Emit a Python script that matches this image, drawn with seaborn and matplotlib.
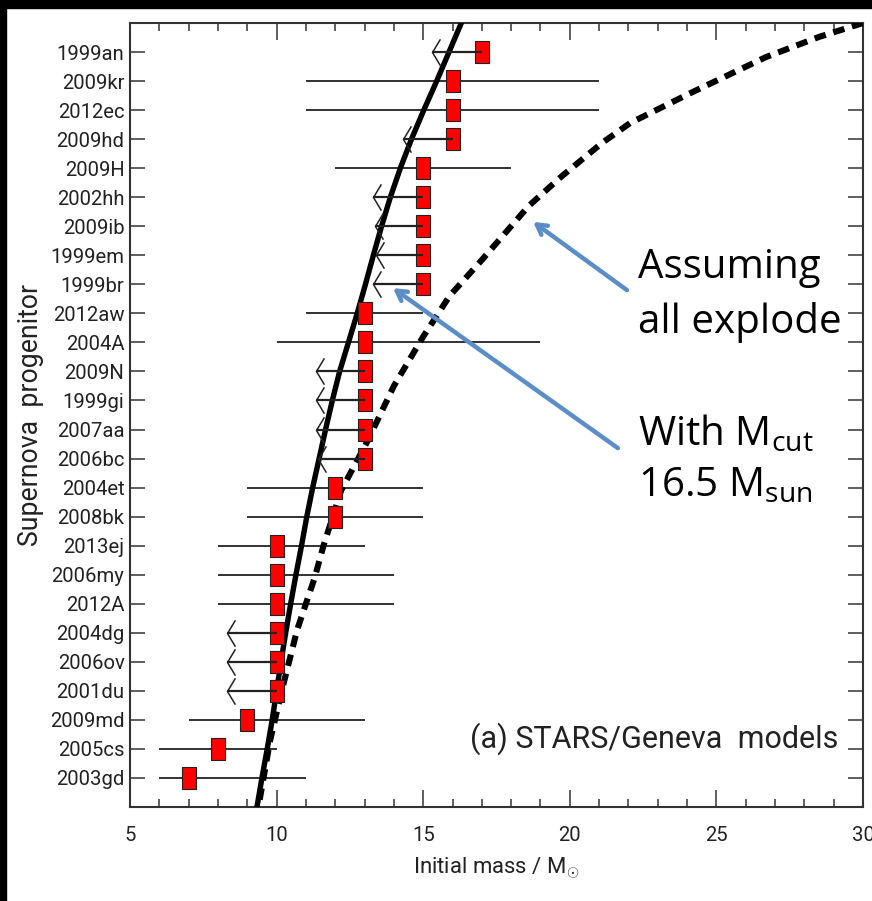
import numpy as np
import pandas as pd
import matplotlib
matplotlib.use("Agg")
import matplotlib.pyplot as plt
import seaborn as sns
from matplotlib.path import Path
from matplotlib.patches import Rectangle
from matplotlib.ticker import MultipleLocator, NullLocator

# ---------------- data ----------------
names = ["1999an", "2009kr", "2012ec", "2009hd", "2009H", "2002hh", "2009ib",
         "1999em", "1999br", "2012aw", "2004A", "2009N", "1999gi", "2007aa",
         "2006bc", "2004et", "2008bk", "2013ej", "2006my", "2012A", "2004dg",
         "2006ov", "2001du", "2009md", "2005cs", "2003gd"]
mass = [17, 16, 16, 16, 15, 15, 15, 15, 15, 13, 13, 13, 13, 13, 13, 12, 12,
        10, 10, 10, 10, 10, 10, 9, 8, 7]
err_lo = [15.3, 11, 11, 14.3, 12, 13.3, 13.35, 13.4, 13.3, 11, 10, 11.35, 11.35,
          11.35, 11.4, 9, 9, 8, 8, 8, 8.3, 8.3, 8.3, 7, 6, 6]
err_hi = [17, 21, 21, 16, 18, 15, 15, 15, 15, 15, 19, 13, 13, 13, 13, 15, 15,
          13, 14, 14, 10, 10, 10, 13, 10, 11]
is_limit = [True, False, False, True, False, True, True, True, True, False,
            False, True, True, True, True, False, False, False, False, False,
            True, True, True, False, False, False]

# model curve: rank position vs. mass (M_cut = 16.5)
solid_rank = [-1, 0, 1, 2, 3, 4, 5, 6, 7, 8, 9, 10, 11, 12, 13, 14, 15, 16,
              17, 18, 19, 20, 21, 22, 23, 24, 25, 26]
solid_mass = [16.3, 15.88, 15.46, 15.02, 14.6, 14.22, 13.88, 13.58, 13.3, 13.03,
              12.75, 12.45, 12.15, 11.9, 11.67, 11.45, 11.23, 11.03, 10.85, 10.66,
              10.48, 10.31, 10.15, 10.0, 9.85, 9.68, 9.5, 9.33]
# model curve assuming all explode
dash_rank = [-1, -0.52, 0.17, 1.42, 2.45, 3.13, 4.3, 5.3, 7.16, 8.4, 9.8, 11.5,
             13.4, 15.1, 17.0, 18.1, 19.9, 21.9, 23.7, 26]
dash_mass = [30, 28.5, 26.7, 24.1, 22.05, 21.1, 19.7, 18.6, 17.0, 15.9, 15.0,
             14.0, 13.1, 12.2, 11.6, 11.3, 10.7, 10.2, 9.78, 9.38]

df = pd.DataFrame({"name": names, "mass": mass, "lo": err_lo, "hi": err_hi,
                   "limit": is_limit})
df["pos"] = np.arange(len(df))

# ---------------- figure ----------------
plt.rcParams["mathtext.fontset"] = "custom"
plt.rcParams["mathtext.rm"] = "Open Sans"
plt.rcParams["mathtext.it"] = "Open Sans:italic"
plt.rcParams["mathtext.bf"] = "Open Sans:bold"

fig = plt.figure(figsize=(8.72, 9.01), dpi=100)
fig.patch.set_facecolor("white")
ax = fig.add_axes([130 / 872, 94 / 901, 733 / 872, 784 / 901])

axfont = ["Liberation Sans Narrow", "Roboto", "DejaVu Sans"]
ink = "#222222"

# two-sided ranges
two = df[~df["limit"]]
ax.hlines(two["pos"], two["lo"], two["hi"], color=ink, lw=1.3, zorder=2)

# model curves
sns.lineplot(x=solid_mass, y=solid_rank, sort=False, estimator=None,
             color="black", lw=3.9, ax=ax, zorder=3)
sns.lineplot(x=dash_mass, y=dash_rank, sort=False, estimator=None,
             color="black", lw=4.4, ax=ax, zorder=3)
ax.lines[-1].set_dashes((1.9, 1.3))
ax.lines[-1].set_dash_capstyle("butt")

# red boxes
rect = Path([(-0.31, -0.5), (0.31, -0.5), (0.31, 0.5), (-0.31, 0.5), (-0.31, -0.5)],
            [Path.MOVETO, Path.LINETO, Path.LINETO, Path.LINETO, Path.CLOSEPOLY])
sns.scatterplot(data=df, x="mass", y="pos", marker=rect, s=235, color="red",
                edgecolor=ink, linewidth=0.8, zorder=4, ax=ax, legend=False)

# upper limits (drawn over boxes)
lim = df[df["limit"]]
ax.hlines(lim["pos"], lim["lo"], lim["mass"], color=ink, lw=1.6, zorder=5)
chev = Path([(0.3, 0.5), (0.0, 0.0), (0.3, -0.5)],
            [Path.MOVETO, Path.LINETO, Path.LINETO])
ax.plot(lim["lo"], lim["pos"], ls="none", marker=chev, ms=19, mfc="none",
        mec=ink, mew=1.1, zorder=5)

# axes styling
ax.set_xlim(5, 30)
ax.set_ylim(len(names), -1)
ax.set_xticks([5, 10, 15, 20, 25, 30])
ax.xaxis.set_minor_locator(MultipleLocator(1))
ax.yaxis.set_minor_locator(NullLocator())
ax.set_yticks(df["pos"])
ax.set_yticklabels(names)
ax.tick_params(which="both", direction="in", top=True, right=True,
               color="#333333", width=1.1, labelcolor=ink, labelsize=15)
ax.tick_params(axis="x", which="major", length=12, pad=14)
ax.tick_params(axis="x", which="minor", length=6)
ax.tick_params(axis="y", which="major", length=11, pad=4)
for s in ax.spines.values():
    s.set_linewidth(1.5)
    s.set_color("#333333")

ylabs = ax.get_yticklabels()
xlabs = ax.get_xticklabels()
for t in ylabs + xlabs:
    t.set_fontfamily(axfont)

xl = ax.set_xlabel(r"Initial mass / M$_{\odot}$", fontsize=15, family=axfont,
                   color=ink)
ax.xaxis.set_label_coords(0.5, -(855 - 807) / 784)
yl = ax.set_ylabel("Supernova  progenitor", fontsize=15, family=axfont,
                   color=ink, va="center")
ax.yaxis.set_label_coords(-(130 - 31) / 733, 0.5)

model_txt = ax.text(0.464, 0.075, "(a) STARS/Geneva  models",
                    transform=ax.transAxes, fontsize=22, family=axfont,
                    color=ink, va="baseline", ha="left")

# annotations
blue = "#5b8ec9"
ax.annotate("", xy=(18.75, 5.85), xytext=(21.95, 8.2),
            arrowprops=dict(arrowstyle="->,head_length=0.7,head_width=0.4",
                            color=blue, lw=3.2, shrinkA=0, shrinkB=0),
            zorder=6)
ax.annotate("", xy=(13.97, 8.13), xytext=(21.64, 13.64),
            arrowprops=dict(arrowstyle="->,head_length=0.7,head_width=0.4",
                            color=blue, lw=3.2, shrinkA=0, shrinkB=0),
            zorder=6)
tx = 22.33
for txt, yb in [("Assuming", 7.78), ("all explode", 9.68),
                (r"With M$_{\mathrm{cut}}$", 13.53),
                (r"16.5 M$_{\mathrm{sun}}$", 15.32)]:
    ax.text(tx, yb, txt, fontsize=29, family="Open Sans", color="black",
            va="baseline", ha="left", zorder=7, clip_on=False)

# black frame remnants at top and left
fig.add_artist(Rectangle((0, 1 - 8 / 901), 1, 8 / 901, transform=fig.transFigure,
                         color="black", zorder=10))
fig.add_artist(Rectangle((0, 0), 6 / 872, 1, transform=fig.transFigure,
                         color="black", zorder=10))

# ---- fit text sizes to the reference extents (pixels) ----
fig.canvas.draw()
r = fig.canvas.get_renderer()


def fit(texts, target, use_height=False):
    bb = texts[0].get_window_extent(r)
    cur = bb.height if use_height else bb.width
    f = texts[0].get_fontsize() * target / cur
    for t in texts:
        t.set_fontsize(f)
    return f


fy = fit([ylabs[0]], 68)
ax.tick_params(labelsize=fy)
fit([xl], 167)
fit([yl], 262, use_height=True)
fit([model_txt], 368)

fig.savefig("out.png", dpi=100, facecolor="white")
